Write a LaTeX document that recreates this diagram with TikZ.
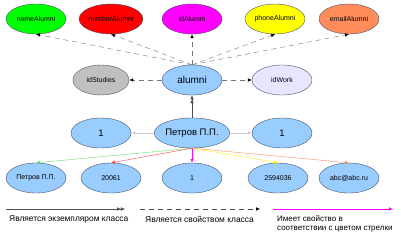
\documentclass[tikz,border=0pt]{standalone}
\usepackage{fontspec}
\setmainfont{Liberation Sans}
\usepackage{xcolor}
\usetikzlibrary{arrows.meta,positioning,shapes.geometric,calc}
\definecolor{alblue}{RGB}{153,204,255}
\definecolor{aledge}{RGB}{70,80,110}
\definecolor{alcoral}{RGB}{255,140,90}
\definecolor{allav}{RGB}{230,230,255}
\definecolor{algray}{RGB}{192,192,192}
\definecolor{almag}{RGB}{255,0,255}
\definecolor{algreen}{RGB}{0,255,0}
\definecolor{alred}{RGB}{255,0,0}
\definecolor{alyellow}{RGB}{255,255,0}
\tikzset{
alnode/.style={ellipse,draw=aledge,fill=alblue,inner sep=0pt,minimum width=60pt,minimum height=30pt},
alprop/.style={alnode,font=\fontsize{7}{8}\selectfont},
alval/.style={alnode,font=\fontsize{7}{8}\selectfont},
albig/.style={alnode,font=\fontsize{9.5}{11}\selectfont},
alarr/.style={-{Latex[length=4pt,width=3.5pt,color=black]},thin},
aldash/.style={alarr,dashed,dash pattern=on 5pt off 4pt,black!55},
alinst/.style={-{Latex[length=4pt,width=3.5pt]Latex[length=4pt,width=3.5pt]},thin,black!70},
alfaint/.style={-{Latex[length=4pt,width=3.5pt]},thin,black!20},
alhas/.style={-{Latex[length=4pt,width=3.5pt]},thin},
allabel/.style={font=\fontsize{8.4}{10}\selectfont,align=left,inner sep=0pt,anchor=west}
}
\begin{document}
\begin{tikzpicture}[
x=1pt,
y=-1pt
]
\useasboundingbox (0,0) rectangle (401,238);
% properties of the class
\node[alprop,fill=algreen] (name) at (36,19) {nameAlumni};
\node[alprop,fill=alred] (number) at (111,19) {numberAlumni};
\node[alprop,fill=almag] (idal) at (192,19) {idAlumni};
\node[alprop,fill=alyellow] (phone) at (275,19) {phoneAlumni};
\node[alprop,fill=alcoral] (email) at (349,19) {emailAlumni};
\node[alprop,fill=algray,minimum width=56pt] (studies) at (101,80) {idStudies};
\node[albig,font=\fontsize{10}{11}\selectfont] (alumni) at (192,80) {alumni};
\node[alprop,fill=allav] (work) at (282,80) {idWork};
% instance
\node[albig] (oneleft) at (101,133) {1};
\node[albig] (petrov) at (192,133) {Петров П.П.};
\node[albig] (oneright) at (282,133) {1};
\node[alval] (fio) at (36,178) {Петров П.П.};
\node[alval] (num) at (111,178) {20061};
\node[alval] (idv) at (192,178) {1};
\node[alval] (tel) at (278,178) {2594036};
\node[alval] (mail) at (349,178) {abc@abc.ru};
\draw[aldash] (alumni.north) -- (name.south);
\draw[aldash] (alumni.north) -- (number.south);
\draw[aldash] (alumni.north) -- (idal.south);
\draw[aldash] (alumni.north) -- (phone.south);
\draw[aldash] (alumni.north) -- (email.south);
\draw[aldash] (alumni) -- (studies);
\draw[aldash] (alumni) -- (work);
\draw[alinst] (petrov) -- (alumni);
\draw[alfaint] (petrov) -- (oneleft);
\draw[alfaint] (petrov) -- (oneright);
\draw[alhas,algreen!80!black!60] (petrov.south) -- (fio.north);
\draw[alhas,alred!75] (petrov.south) -- (num.north);
\draw[alhas,almag] (petrov.south) -- (idv.north);
\draw[alhas,alyellow!90!orange] (petrov.south) -- (tel.north);
\draw[alhas,alcoral] (petrov.south) -- (mail.north);
% legend
\coordinate (insta) at (6,209);
\coordinate (instb) at (125,209);
\coordinate (propa) at (140,209);
\coordinate (propb) at (260,209);
\coordinate (hasa) at (273,209);
\coordinate (hasb) at (393,209);
\draw[alinst] (insta) -- (instb);
\draw[aldash,black!70] (propa) -- (propb);
\draw[alhas,almag] (hasa) -- (hasb);
\node[allabel] (instlabel) at (9,219) {Является экземпляром класса};
\node[allabel] (proplabel) at (145,219) {Является свойством класса};
\node[allabel,font=\fontsize{8}{9.5}\selectfont] (haslabel) at (277,224) {Имеет свойство в\\соответствии с цветом стрелки};
\end{tikzpicture}
\end{document}
